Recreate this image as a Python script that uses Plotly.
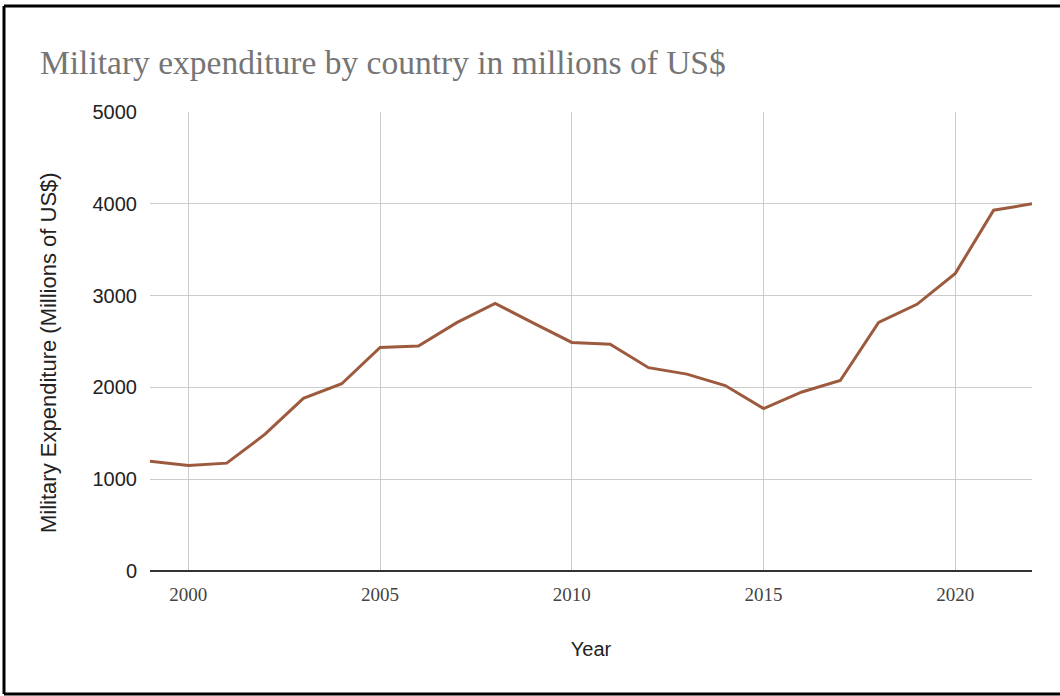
import plotly.graph_objects as go

years = list(range(1999, 2023))
expenditure = [1195, 1150, 1175, 1490, 1880, 2040, 2435, 2450, 2705, 2915,
               2700, 2490, 2470, 2215, 2145, 2020, 1770, 1950, 2075, 2708,
               2905, 3242, 3930, 4000]
x_ticks = [2000, 2005, 2010, 2015, 2020]
y_ticks = [0, 1000, 2000, 3000, 4000, 5000]

W, H = 1060, 696
ML, MR, MT, MB = 150, 28, 112, 125
PW, PH = W - ML - MR, H - MT - MB

def px(x):
    return (x - ML) / PW

def py(y):
    return (H - MB - y) / PH

fig = go.Figure()
fig.add_trace(go.Scatter(
    x=years, y=expenditure, mode="lines",
    line=dict(color="#9c5b3e", width=3),
    showlegend=False,
))

border = dict(color="black", width=3)
fig.update_layout(
    width=W, height=H,
    margin=dict(l=ML, r=MR, t=MT, b=MB, autoexpand=False),
    paper_bgcolor="white", plot_bgcolor="white",
    title=dict(
        text="Military expenditure by country in millions of US$",
        x=40 / W, xanchor="left", xref="container",
        y=1 - 62 / H, yanchor="middle", yref="container",
        font=dict(family="Liberation Serif, serif", size=33.5, color="#757575"),
    ),
    xaxis=dict(
        range=[1999, 2022], tickvals=x_ticks,
        showgrid=True, gridcolor="#cccccc", gridwidth=1,
        zeroline=False, showline=False, ticks="",
        ticklabelstandoff=10,
        tickfont=dict(family="Liberation Serif, serif", size=19, color="#444444"),
        title=dict(text="Year", standoff=37,
                   font=dict(family="Liberation Sans, Arial, sans-serif", size=20, color="#222222")),
    ),
    yaxis=dict(
        range=[0, 5000], tickvals=y_ticks,
        showgrid=True, gridcolor="#cccccc", gridwidth=1,
        zeroline=True, zerolinecolor="#333333", zerolinewidth=2,
        showline=False, ticks="",
        ticklabelstandoff=12,
        tickfont=dict(family="Liberation Sans, Arial, sans-serif", size=20, color="#222222"),
    ),
    annotations=[dict(
        text="Military Expenditure (Millions of US$)", textangle=-90,
        xref="paper", yref="paper", x=px(48), y=py(353),
        xanchor="center", yanchor="middle", showarrow=False,
        font=dict(family="Liberation Sans, Arial, sans-serif", size=22, color="#222222"),
    )],
    shapes=[
        dict(type="line", xref="paper", yref="paper",
             x0=px(4), x1=px(4), y0=py(694), y1=py(6), line=border, layer="above"),
        dict(type="line", xref="paper", yref="paper",
             x0=px(4), x1=px(1060), y0=py(6), y1=py(6), line=border, layer="above"),
        dict(type="line", xref="paper", yref="paper",
             x0=px(4), x1=px(1060), y0=py(694), y1=py(694), line=border, layer="above"),
    ],
)

fig.write_html("out.html", config={"displayModeBar": False},
               post_script="document.body.style.margin='0';")
